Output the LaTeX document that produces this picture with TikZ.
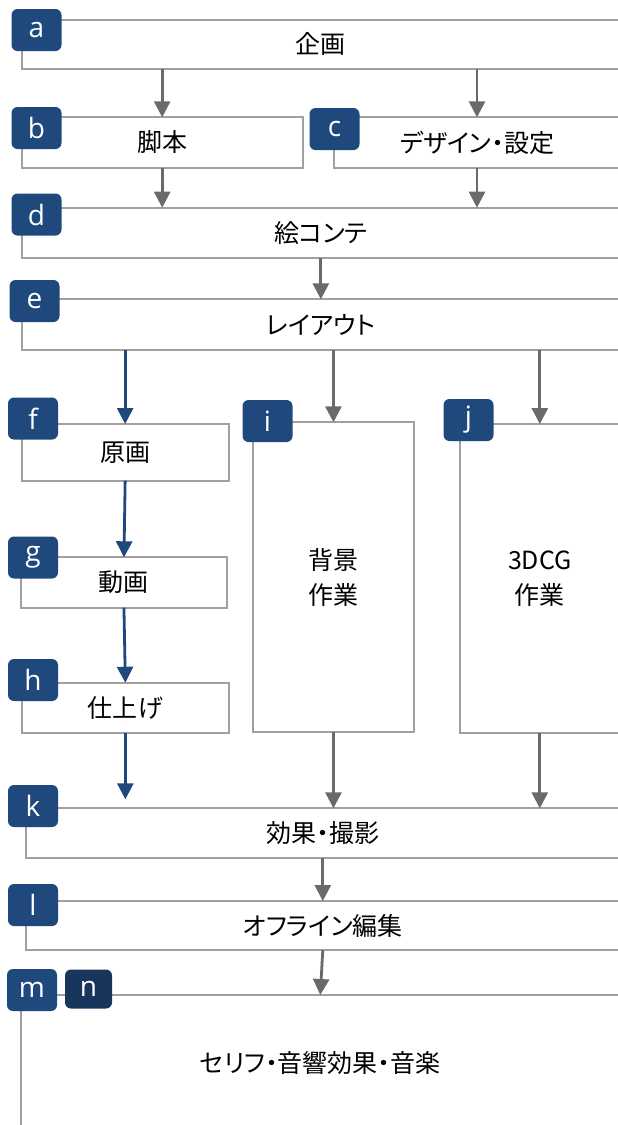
\documentclass[tikz,border=0pt]{standalone}
\usepackage{fontspec}
\usepackage{xcolor}
\usetikzlibrary{arrows.meta}
\newfontfamily\jpfont{Noto Sans CJK JP}[RawFeature={+palt}]
\newfontfamily\tagfont{Open Sans}
\definecolor{navy}{RGB}{31,73,125}
\definecolor{navydark}{RGB}{24,54,92}
\definecolor{linegray}{RGB}{160,160,160}
\definecolor{arrowgray}{RGB}{106,106,106}
\tikzset{
  area/.style={inner sep=0pt, outer sep=0pt, align=center,
    font=\jpfont\fontsize{25}{35}\selectfont},
  closedarea/.style={area, draw=linegray, line width=2pt},
  boxline/.style={draw=linegray, line width=2pt},
  tag/.style={fill=navy, rounded corners=6pt, minimum width=50pt,
    minimum height=42pt, inner sep=0pt, text=white,
    font=\tagfont\fontsize{28}{28}\selectfont},
  grayarrow/.style={draw=arrowgray, line width=2.8pt,
    -{Triangle[width=16pt,length=16pt]}},
  bluearrow/.style={draw=navy, line width=2.8pt,
    -{Triangle[width=16pt,length=16pt]}}
}

\begin{document}
\begin{tikzpicture}[x=1pt,y=-1pt]
			\useasboundingbox (0,0) rectangle (618,1125);
			% Các khối
			\node[area, minimum width=598.3pt, minimum height=49.8pt] (a) at (320.85,44.4) {企画};
			\node[closedarea, minimum width=281pt, minimum height=50.4pt] (b) at (162.2,142.5) {脚本};
			\node[area, minimum width=286.1pt, minimum height=50.7pt] (c) at (477,142.65) {デザイン・設定};
			\node[area, minimum width=598.3pt, minimum height=50pt] (d) at (320.85,232.7) {絵コンテ};
			\node[area, minimum width=598.3pt, minimum height=50.7pt] (e) at (320.85,324.65) {レイアウト};
			\node[closedarea, minimum width=206.9pt, minimum height=56.7pt] (f) at (125.15,452.35) {原画};
			\node[closedarea, minimum width=206.9pt, minimum height=50.4pt] (g) at (123.95,582.5) {動画};
			\node[closedarea, minimum width=207.3pt, minimum height=50pt] (h) at (125.35,707.7) {仕上げ};
			\node[closedarea, minimum width=160.9pt, minimum height=309.4pt] (i) at (333.45,577) {背景\\作業};
			\node[area, minimum width=160.4pt, minimum height=309.3pt] (j) at (539.8,578.65) {3DCG\\作業};
			\node[area, minimum width=594.4pt, minimum height=50pt] (k) at (322.8,833.3) {効果・撮影};
			\node[area, minimum width=594.4pt, minimum height=49pt] (l) at (322.8,925.5) {オフライン編集};
			\node[area, minimum width=599.5pt, minimum height=136pt] (m) at (320.25,1063) {セリフ・音響効果・音楽};
			\foreach \n in {a,c,d,e,j,k,l}
			\draw[boxline] (\n.north east) -- (\n.north west) -- (\n.south west) -- (\n.south east);
			\draw[boxline] (m.north east) -- (m.north west) -- (m.south west);
			% Mũi tên
			\draw[grayarrow] (a.south -| b.north) -- (b.north);
			\draw[grayarrow] (a.south -| c.north) -- (c.north);
			\draw[grayarrow] (b.south) -- (b.south |- d.north);
			\draw[grayarrow] (c.south) -- (c.south |- d.north);
			\draw[grayarrow] (d.south) -- (e.north);
			\draw[bluearrow] (e.south -| f.north) -- (f.north);
			\draw[grayarrow] (e.south -| i.north) -- (i.north);
			\draw[grayarrow] (e.south -| j.north) -- (j.north);
			\draw[bluearrow] (f.south) -- (g.north);
			\draw[bluearrow] (g.south) -- (h.north);
			\draw[bluearrow, shorten >=9pt] (h.south) -- (h.south |- k.north);
			\draw[grayarrow] (i.south) -- (i.south |- k.north);
			\draw[grayarrow] (j.south) -- (j.south |- k.north);
			\draw[grayarrow] (k.south) -- (l.north);
			\draw[grayarrow] (l.south) -- (m.north);
			% Nhãn
			\foreach \n/\x/\y in {a/36.5/30, b/36.5/128, c/334.5/129, d/36.5/214.5,
				e/34.5/301, f/33/418.5, g/33/557.5, h/33/680, i/267.5/421,
				j/468.5/420, k/33/806, l/33/905, m/32/990}
			\node[tag] (t\n) at (\x,\y) {\n};
			\node[tag, fill=navydark, minimum width=47pt, minimum height=39pt] (tn) at (88.5,989) {n};
		\end{tikzpicture}
\end{document}
